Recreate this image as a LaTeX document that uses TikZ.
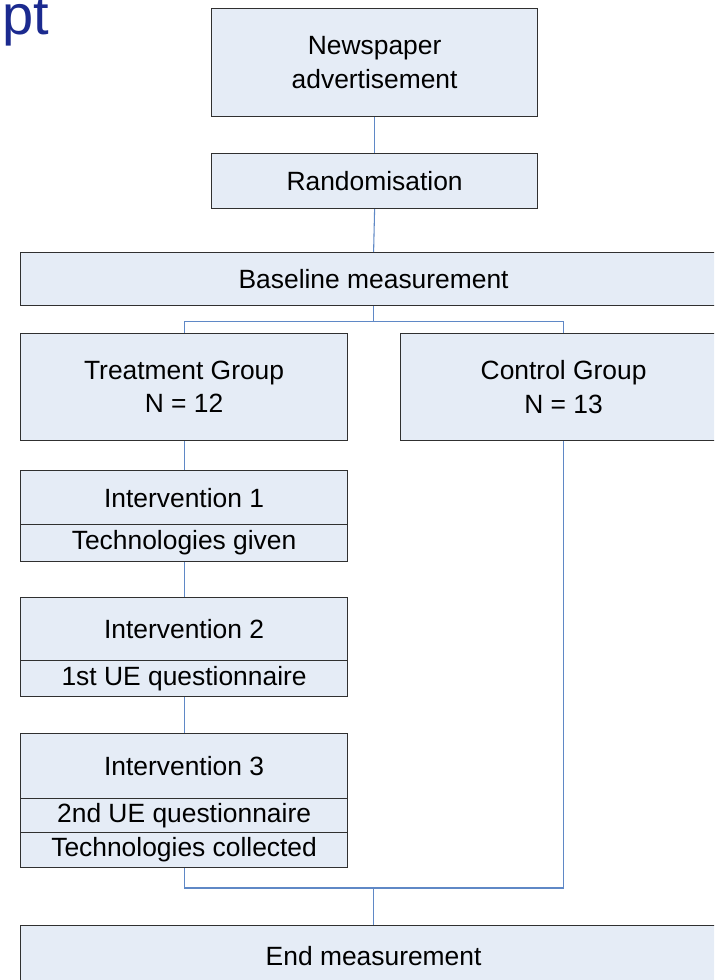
\documentclass[tikz,border=0pt]{standalone}
\usepackage{fontspec}
\setmainfont{Liberation Sans}
\definecolor{boxfill}{HTML}{E5ECF6}
\definecolor{boxline}{HTML}{303030}
\definecolor{connblue}{HTML}{5F88C6}
\definecolor{titleblue}{HTML}{1B2A8F}
\begin{document}
\begin{tikzpicture}[x=0.75pt,y=-0.75pt,
  box/.style={draw=boxline, fill=boxfill, line width=0.9pt, inner sep=0pt,
    font=\fontsize{19.8}{25}\selectfont, align=center, text=black, anchor=north west},
  sz/.style 2 args={minimum width=#1*0.75pt, minimum height=#2*0.75pt},
  conn/.style={draw=connblue, line width=0.8pt}]
\useasboundingbox (0,0) rectangle (714,980);
\clip (0,0) rectangle (714,980);
\fill[white] (0,0) rectangle (714,980);

\node[anchor=base east, text=titleblue, font=\fontsize{42}{42}\selectfont] (title) at (54,35) {pt};

\node[box, sz={326}{108}] (news) at (211,8) {Newspaper\\advertisement};
\node[box, sz={326}{55}] (rand) at (211,153) {Randomisation};
\node[box, sz={706}{53}] (base) at (20,252) {Baseline measurement};
\node[box, sz={327}{107}] (treat) at (20,333) {Treatment Group\\N = 12};
\node[box, sz={326}{107}] (ctrl) at (400,333) {Control Group\\N = 13};

\node[box, sz={327}{54}] (int1a) at (20,470) {Intervention 1};
\node[box, sz={327}{37}] (int1b) at (20,524) {Technologies given};

\node[box, sz={327}{63}] (int2a) at (20,597) {Intervention 2};
\node[box, sz={327}{36}] (int2b) at (20,660) {1st UE questionnaire};

\node[box, sz={327}{65}] (int3a) at (20,733) {Intervention 3};
\node[box, sz={327}{34}] (int3b) at (20,798) {2nd UE questionnaire};
\node[box, sz={327}{35}] (int3c) at (20,832) {Technologies collected};

\node[box, sz={706}{60}] (endm) at (20,925) {End measurement};

\draw[conn] (news.south) -- (rand.north);
\draw[conn] (rand.south) -- (base.north);
\draw[conn] (base.south) -- ++(0,15) coordinate (bsplit);
\draw[conn] (bsplit) -| (treat.north);
\draw[conn] (bsplit) -| (ctrl.north);
\draw[conn] (treat.south) -- (int1a.north);
\draw[conn] (int1b.south) -- (int2a.north);
\draw[conn] (int2b.south) -- (int3a.north);
\path (endm.north) ++(0,-37) coordinate (join);
\draw[conn] (int3c.south) |- (join) -- (endm.north);
\draw[conn] (ctrl.south) |- (join);
\end{tikzpicture}
\end{document}
